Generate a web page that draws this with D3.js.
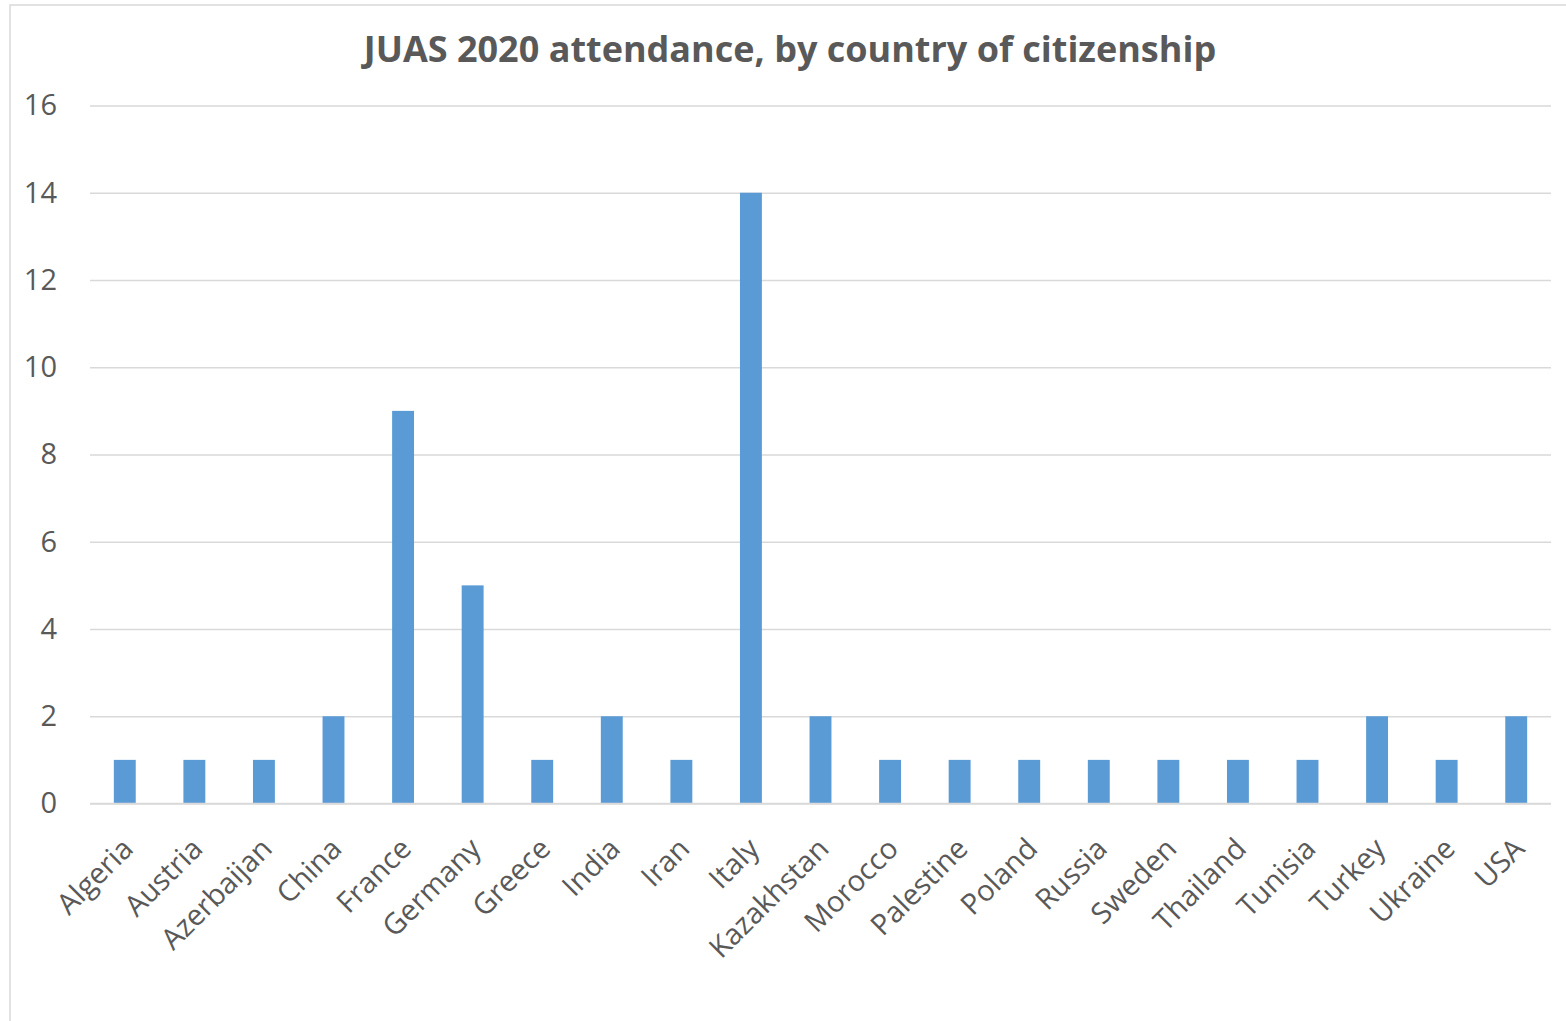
<!DOCTYPE html>
<html><head><meta charset="utf-8">
<script src="https://cdn.jsdelivr.net/npm/d3@7"></script>
<style>body{margin:0;background:#fff;} svg{display:block;}</style>
</head><body>
<svg id="chart" width="1566" height="1021"></svg>
<script>
const categories = ["Algeria","Austria","Azerbaijan","China","France","Germany","Greece","India","Iran","Italy","Kazakhstan","Morocco","Palestine","Poland","Russia","Sweden","Thailand","Tunisia","Turkey","Ukraine","USA"];
const attendance = [1,1,1,2,9,5,1,2,1,14,2,1,1,1,1,1,1,1,2,1,2];
const yTicks = [0,2,4,6,8,10,12,14,16];
const title = "JUAS 2020 attendance, by country of citizenship";

(function(){
const svg = d3.select("#chart");
const font = "'Open Sans', sans-serif";
const mLeft = 90, mRight = 1551, mTop = 105.5, mBottom = 803.5;

svg.append("rect").attr("x",10).attr("y",5).attr("width",1600).attr("height",1100)
  .attr("fill","none").attr("stroke","#d9d9d9").attr("stroke-width",1.5);

const x = d3.scaleBand().domain(categories).range([mLeft,mRight]).paddingInner(0.685).paddingOuter(0.3425);
const y = d3.scaleLinear().domain([0,16]).range([mBottom,mTop]);

const yAxis = svg.append("g").attr("transform",`translate(${mLeft},0)`)
  .call(d3.axisLeft(y).tickValues(yTicks).tickSize(-(mRight-mLeft)).tickPadding(33));
yAxis.select(".domain").remove();
yAxis.selectAll(".tick line").attr("stroke","#d9d9d9").attr("stroke-width",1.5);
yAxis.selectAll(".tick text").attr("fill","#595959").style("font-family",font).style("font-size","29px");

svg.append("g").selectAll("rect").data(categories).join("rect")
  .attr("x",d=>x(d)).attr("width",x.bandwidth())
  .attr("y",(d,i)=>y(attendance[i])).attr("height",(d,i)=>y(0)-y(attendance[i]))
  .attr("fill","#5b9bd5");

const xAxis = svg.append("g").attr("transform",`translate(0,${mBottom})`)
  .call(d3.axisBottom(x).tickSize(0).tickPadding(0));
xAxis.select(".domain").attr("stroke","#d9d9d9").attr("stroke-width",1.5)
  .attr("d",`M${mLeft},0H${mRight}`);
xAxis.selectAll(".tick text")
  .attr("fill","#595959").style("font-family",font).style("font-size","29px")
  .attr("text-anchor","end").attr("dy",null).attr("y",0)
  .attr("transform","translate(10,47) rotate(-45)");

svg.append("text").attr("x",790).attr("y",62).attr("text-anchor","middle")
  .attr("fill","#595959").style("font-family",font).style("font-weight","bold").style("font-size","36px")
  .text(title);
})();
</script>
</body></html>
